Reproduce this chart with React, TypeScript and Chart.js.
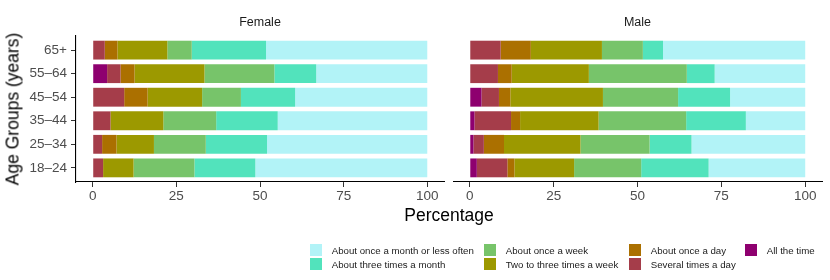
import React, { useEffect, useRef } from "react";
import { Chart, registerables } from "chart.js";

Chart.register(...registerables);

// Age groups, bottom to top
const AGE_GROUPS = ["18–24", "25–34", "35–44", "45–54", "55–64", "65+"];
const X_TICKS = [0, 25, 50, 75, 100];

const SERIES = [
  "All the time",
  "Several times a day",
  "About once a day",
  "Two to three times a week",
  "About once a week",
  "About three times a month",
  "About once a month or less often",
];
const COLORS = ["#8E006F", "#A53D4A", "#AB7000", "#9C9900", "#77C46A", "#52E3BC", "#B2F3F7"];

// Female (18–24 … 65+)
const F_ALL = [0, 0, 0, 0, 4.3, 0];
const F_SEVERAL = [3.1, 2.8, 5.3, 9.4, 4.0, 3.6];
const F_DAY = [0, 4.3, 0, 7.0, 4.2, 3.8];
const F_TWOTHREE = [9.1, 11.2, 15.8, 16.3, 20.9, 14.9];
const F_WEEK = [18.2, 15.5, 15.8, 11.6, 20.9, 7.3];
const F_THREEMONTH = [18.2, 18.3, 18.4, 16.2, 12.5, 22.2];
const F_MONTH = [51.4, 47.9, 44.7, 39.5, 33.2, 48.2];

// Male (18–24 … 65+)
const M_ALL = [2.1, 1.1, 1.4, 3.5, 0, 0];
const M_SEVERAL = [9.1, 3.1, 10.9, 5.2, 8.4, 9.2];
const M_DAY = [2.1, 6.0, 2.7, 3.4, 4.1, 9.0];
const M_TWOTHREE = [17.8, 22.8, 23.4, 27.6, 23.0, 21.2];
const M_WEEK = [20.0, 20.6, 26.1, 22.4, 29.2, 12.2];
const M_THREEMONTH = [20.1, 12.5, 17.8, 15.5, 8.3, 6.0];
const M_MONTH = [28.8, 33.9, 17.7, 22.4, 27.0, 42.4];

const FEMALE = [F_ALL, F_SEVERAL, F_DAY, F_TWOTHREE, F_WEEK, F_THREEMONTH, F_MONTH];
const MALE = [M_ALL, M_SEVERAL, M_DAY, M_TWOTHREE, M_WEEK, M_THREEMONTH, M_MONTH];

// legend: column-major order (index into SERIES)
const LEGEND_COLS = [[6, 5], [4, 3], [2, 1], [0]];

const FONT = "'Liberation Sans', Arial, Helvetica, sans-serif";

function makeConfig(values: number[][], showY: boolean): any {
  return {
    type: "bar",
    data: {
      datasets: SERIES.map((name, si) => ({
        label: name,
        data: values[si].map((v, i) => ({ x: v, y: i + 1 })),
        backgroundColor: COLORS[si],
        borderWidth: 0,
        barPercentage: 0.8,
        categoryPercentage: 1,
      })),
    },
    options: {
      indexAxis: "y",
      animation: false,
      responsive: false,
      maintainAspectRatio: false,
      layout: { padding: { top: 36, right: 2, left: 0, bottom: 0 } },
      plugins: { legend: { display: false }, tooltip: { enabled: false } },
      scales: {
        x: {
          type: "linear",
          stacked: true,
          min: -5,
          max: 105,
          offset: false,
          afterBuildTicks: (s: any) => {
            s.ticks = X_TICKS.map((v) => ({ value: v }));
          },
          afterFit: (s: any) => {
            s.height = 28;
          },
          grid: { offset: false, drawOnChartArea: false, drawTicks: true, tickLength: 5, color: "#333333" },
          border: { display: true, color: "#000000", width: 1.1 },
          ticks: { color: "#4D4D4D", font: { family: FONT, size: 13.5 }, padding: 1, maxRotation: 0 },
        },
        y: {
          type: "linear",
          stacked: true,
          display: showY,
          min: 0.4,
          max: 6.6,
          offset: false,
          afterBuildTicks: (s: any) => {
            s.ticks = AGE_GROUPS.map((_, i) => ({ value: i + 1 }));
          },
          afterFit: (s: any) => {
            s.width = showY ? 76 : 0;
          },
          grid: { offset: false, drawOnChartArea: false, drawTicks: true, tickLength: 5, color: "#333333" },
          border: { display: true, color: "#000000", width: 1.1 },
          ticks: {
            color: "#4D4D4D",
            font: { family: FONT, size: 13.5 },
            padding: 4,
            callback: (v: any) => AGE_GROUPS[Math.round(v) - 1] ?? "",
          },
        },
      },
    },
  };
}

function Panel(props: { values: number[][]; showY: boolean; left: number; width: number }) {
  const ref = useRef<HTMLCanvasElement>(null);
  useEffect(() => {
    if (!ref.current) return;
    const chart = new Chart(ref.current, makeConfig(props.values, props.showY));
    return () => chart.destroy();
  }, []);
  return (
    <canvas
      ref={ref}
      width={props.width}
      height={210}
      style={{ position: "absolute", left: props.left, top: 0, width: props.width, height: 210 }}
    />
  );
}

export default function App() {
  useEffect(() => {
    document.body.style.margin = "0";
  }, []);
  const colX = [310, 484, 629, 745];
  const rowY = [244, 258];
  return (
    <div
      style={{
        position: "fixed",
        left: 0,
        top: 0,
        width: 830,
        height: 280,
        background: "#fff",
        fontFamily: FONT,
        overflow: "hidden",
      }}
    >
      <Panel values={FEMALE} showY={true} left={0} width={446} />
      <Panel values={MALE} showY={false} left={453} width={371} />
      <div style={{ position: "absolute", left: 76, width: 368, top: 15, textAlign: "center", fontSize: 12.5, color: "#1A1A1A" }}>
        Female
      </div>
      <div style={{ position: "absolute", left: 453, width: 369, top: 15, textAlign: "center", fontSize: 12.5, color: "#1A1A1A" }}>
        Male
      </div>
      <div style={{ position: "absolute", left: 300, width: 298, top: 205, textAlign: "center", fontSize: 17.5, color: "#000" }}>
        Percentage
      </div>
      <div
        style={{
          position: "absolute",
          left: 13,
          top: 109,
          transform: "translate(-50%, -50%) rotate(-90deg)",
          whiteSpace: "nowrap",
          fontSize: 17.5,
          color: "#000",
        }}
      >
        Age Groups (years)
      </div>
      {LEGEND_COLS.map((col, ci) =>
        col.map((si, ri) => (
          <div key={si} style={{ position: "absolute", left: colX[ci], top: rowY[ri], height: 12, display: "flex", alignItems: "center" }}>
            <div style={{ width: 12, height: 11.5, background: COLORS[si] }} />
            <div style={{ marginLeft: 9.7, fontSize: 9.7, color: "#1A1A1A", whiteSpace: "nowrap" }}>{SERIES[si]}</div>
          </div>
        ))
      )}
    </div>
  );
}
